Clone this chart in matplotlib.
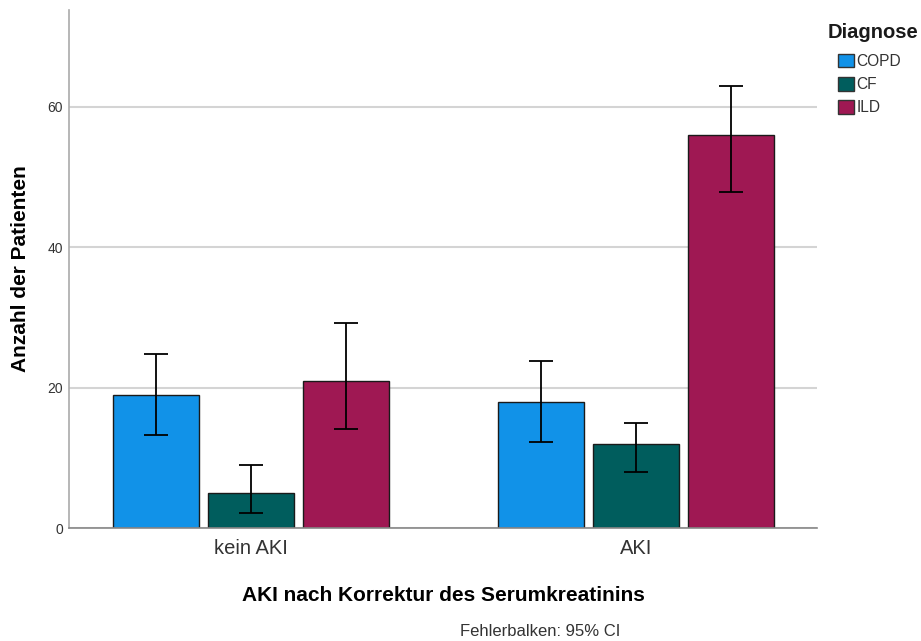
import matplotlib
matplotlib.use("Agg")
import matplotlib.pyplot as plt
import numpy as np
from matplotlib.patches import Patch

plt.rcParams['font.family'] = ['Liberation Sans', 'DejaVu Sans']

groups = ["kein AKI", "AKI"]
diagnoses = ["COPD", "CF", "ILD"]
colors = ["#1192e8", "#005d5d", "#9f1853"]

counts = {
    "COPD": [19, 18],
    "CF": [5, 12],
    "ILD": [21, 56],
}
ci_low = {
    "COPD": [13.2, 12.3],
    "CF": [2.1, 8.0],
    "ILD": [14.1, 47.9],
}
ci_high = {
    "COPD": [24.8, 23.8],
    "CF": [9.0, 15.0],
    "ILD": [29.2, 63.0],
}

fig = plt.figure(figsize=(9.21, 6.41), dpi=100)
ax = fig.add_axes([69 / 921, 113 / 641, 748 / 921, 518 / 641])

x = np.arange(len(groups))
width = 0.2234
step = 0.2468

for i, (d, c) in enumerate(zip(diagnoses, colors)):
    xpos = x + (i - 1) * step
    vals = np.array(counts[d], dtype=float)
    lo = vals - np.array(ci_low[d])
    hi = np.array(ci_high[d]) - vals
    ax.bar(xpos, vals, width=width, color=c, edgecolor="#1a1a1a",
           linewidth=1.0, zorder=2)
    ax.errorbar(xpos, vals, yerr=[lo, hi], fmt="none", ecolor="black",
                elinewidth=1.3, capsize=8.3, capthick=1.3, zorder=3)

ax.set_xlim(-0.472, 1.47)
ax.set_ylim(0, 73.8)
ax.set_yticks([0, 20, 40, 60])
ax.set_xticks(x)
ax.set_xticklabels(groups, fontsize=14.5, color="#333333")
ax.tick_params(axis="x", length=0, pad=8)
ax.tick_params(axis="y", length=0, labelsize=10, labelcolor="#333333", pad=4.5)

ax.yaxis.grid(True, color="#d4d4d4", linewidth=1.5, zorder=0)
ax.set_axisbelow(True)
for s in ["top", "right"]:
    ax.spines[s].set_visible(False)
ax.spines["left"].set_color("#aaaaaa")
ax.spines["bottom"].set_color("#888888")
ax.spines["left"].set_linewidth(1.2)
ax.spines["bottom"].set_linewidth(1.2)

ax.set_ylabel("Anzahl der Patienten", fontsize=15, fontweight="bold", labelpad=12)
ax.set_xlabel("AKI nach Korrektur des Serumkreatinins", fontsize=15,
              fontweight="bold", labelpad=20)

fig.text(828 / 921, 1 - 32 / 641, "Diagnose", ha="left", va="center",
         fontsize=14.5, fontweight="bold", color="#1a1a1a")
handles = [Patch(facecolor=c, edgecolor="#333333", linewidth=1.0) for c in colors]
fig.legend(handles, diagnoses, loc="upper left",
           bbox_to_anchor=(838 / 921, 1 - 54 / 641), frameon=False,
           fontsize=11.2, handlelength=1.05, handleheight=0.95,
           handletextpad=0.15, labelspacing=0.52,
           borderaxespad=0, borderpad=0, labelcolor="#333333")

fig.text(540 / 921, 1 - 632 / 641, "Fehlerbalken: 95% CI", ha="center",
         va="center", fontsize=12, color="#333333")

fig.savefig("out.png", dpi=100)
